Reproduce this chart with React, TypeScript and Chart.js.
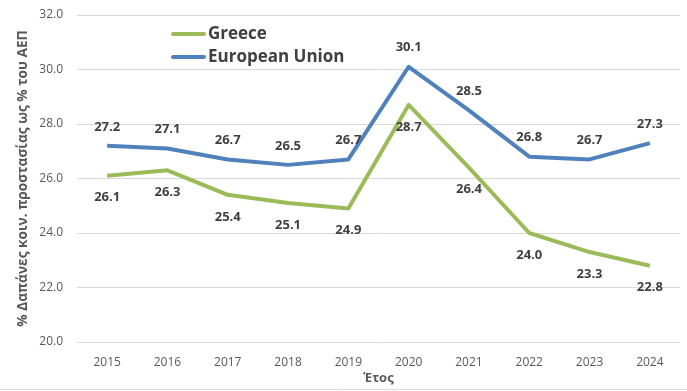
import React, { useEffect, useRef } from "react";
import { Chart, registerables } from "chart.js";

Chart.register(...registerables);

const years = ["2015", "2016", "2017", "2018", "2019", "2020", "2021", "2022", "2023", "2024"];
const greece = [26.1, 26.3, 25.4, 25.1, 24.9, 28.7, 26.4, 24.0, 23.3, 22.8];
const eu = [27.2, 27.1, 26.7, 26.5, 26.7, 30.1, 28.5, 26.8, 26.7, 27.3];
const seriesNames = ["Greece", "European Union"];
const seriesColors = ["#9BBB59", "#4F81BD"];
const labelSides = ["below", "above"];
const yTitle = "% Δαπάνες κοιν. προστασίας ως % του ΑΕΠ";
const xTitle = "Έτος";

const FONT = "'Open Sans', 'DejaVu Sans', sans-serif";

const dataLabels = {
  id: "dataLabels",
  afterDatasetsDraw(chart: any) {
    const ctx = chart.ctx;
    ctx.save();
    ctx.font = `bold 13px ${FONT}`;
    ctx.fillStyle = "#404040";
    ctx.textAlign = "center";
    ctx.textBaseline = "middle";
    chart.data.datasets.forEach((ds: any, i: number) => {
      const meta = chart.getDatasetMeta(i);
      meta.data.forEach((pt: any, j: number) => {
        const v = ds.data[j];
        const dy = labelSides[i] === "above" ? -19 : 22;
        ctx.fillText(v.toFixed(1), pt.x, pt.y + dy);
      });
    });
    ctx.restore();
  },
};

const customLegend = {
  id: "customLegend",
  afterDraw(chart: any) {
    const ctx = chart.ctx;
    ctx.save();
    ctx.font = `bold 17px ${FONT}`;
    ctx.textBaseline = "middle";
    ctx.textAlign = "left";
    chart.data.datasets.forEach((ds: any, i: number) => {
      const y = 34 + i * 23;
      ctx.strokeStyle = ds.borderColor;
      ctx.lineWidth = 4;
      ctx.lineCap = "round";
      ctx.beginPath();
      ctx.moveTo(173, y);
      ctx.lineTo(204, y);
      ctx.stroke();
      ctx.fillStyle = "#404040";
      ctx.fillText(ds.label, 208, y);
    });
    ctx.strokeStyle = "#d9d9d9";
    ctx.lineWidth = 1;
    ctx.beginPath();
    ctx.moveTo(0, 389.5);
    ctx.lineTo(687, 389.5);
    ctx.stroke();
    ctx.restore();
  },
};

export default function App() {
  const ref = useRef<HTMLCanvasElement | null>(null);
  useEffect(() => {
    document.body.style.margin = "0";
    const chart = new Chart(ref.current as HTMLCanvasElement, {
      type: "line",
      data: {
        labels: years,
        datasets: [greece, eu].map((d, i) => ({
          label: seriesNames[i],
          data: d,
          borderColor: seriesColors[i],
          backgroundColor: seriesColors[i],
          borderWidth: 4,
          pointRadius: 0,
          tension: 0,
          borderJoinStyle: "round" as const,
        })),
      },
      options: {
        animation: false,
        responsive: false,
        layout: { padding: { top: 15, right: 7, left: 0, bottom: 0 } },
        plugins: { legend: { display: false }, tooltip: { enabled: false } },
        scales: {
          x: {
            offset: true,
            grid: { display: false, drawTicks: false },
            border: { display: false },
            ticks: { color: "#595959", font: { family: FONT, size: 12 }, padding: 13, maxRotation: 0 },
            title: { display: true, text: xTitle, color: "#595959", font: { family: FONT, size: 13, weight: "bold" }, padding: { top: 0, bottom: 5 } },
            afterFit: (s: any) => { s.height = 49; },
          },
          y: {
            min: 20,
            max: 32,
            ticks: { stepSize: 2, color: "#595959", font: { family: FONT, size: 12 }, padding: 14, callback: (v: any) => Number(v).toFixed(1) },
            grid: { color: "#d9d9d9", drawTicks: false, lineWidth: 1 },
            border: { display: false },
            title: { display: true, text: yTitle, color: "#595959", font: { family: FONT, size: 13.7, weight: "bold" }, padding: { top: 15, bottom: 0 } },
            afterFit: (s: any) => { s.width = 77; s.paddingTop = 0; s.paddingBottom = 0; },
          },
        },
      },
      plugins: [dataLabels, customLegend],
    });
    return () => chart.destroy();
  }, []);
  return (
    <div style={{ width: 687, height: 391 }}>
      <canvas ref={ref} width={687} height={391} style={{ display: "block" }} />
    </div>
  );
}
